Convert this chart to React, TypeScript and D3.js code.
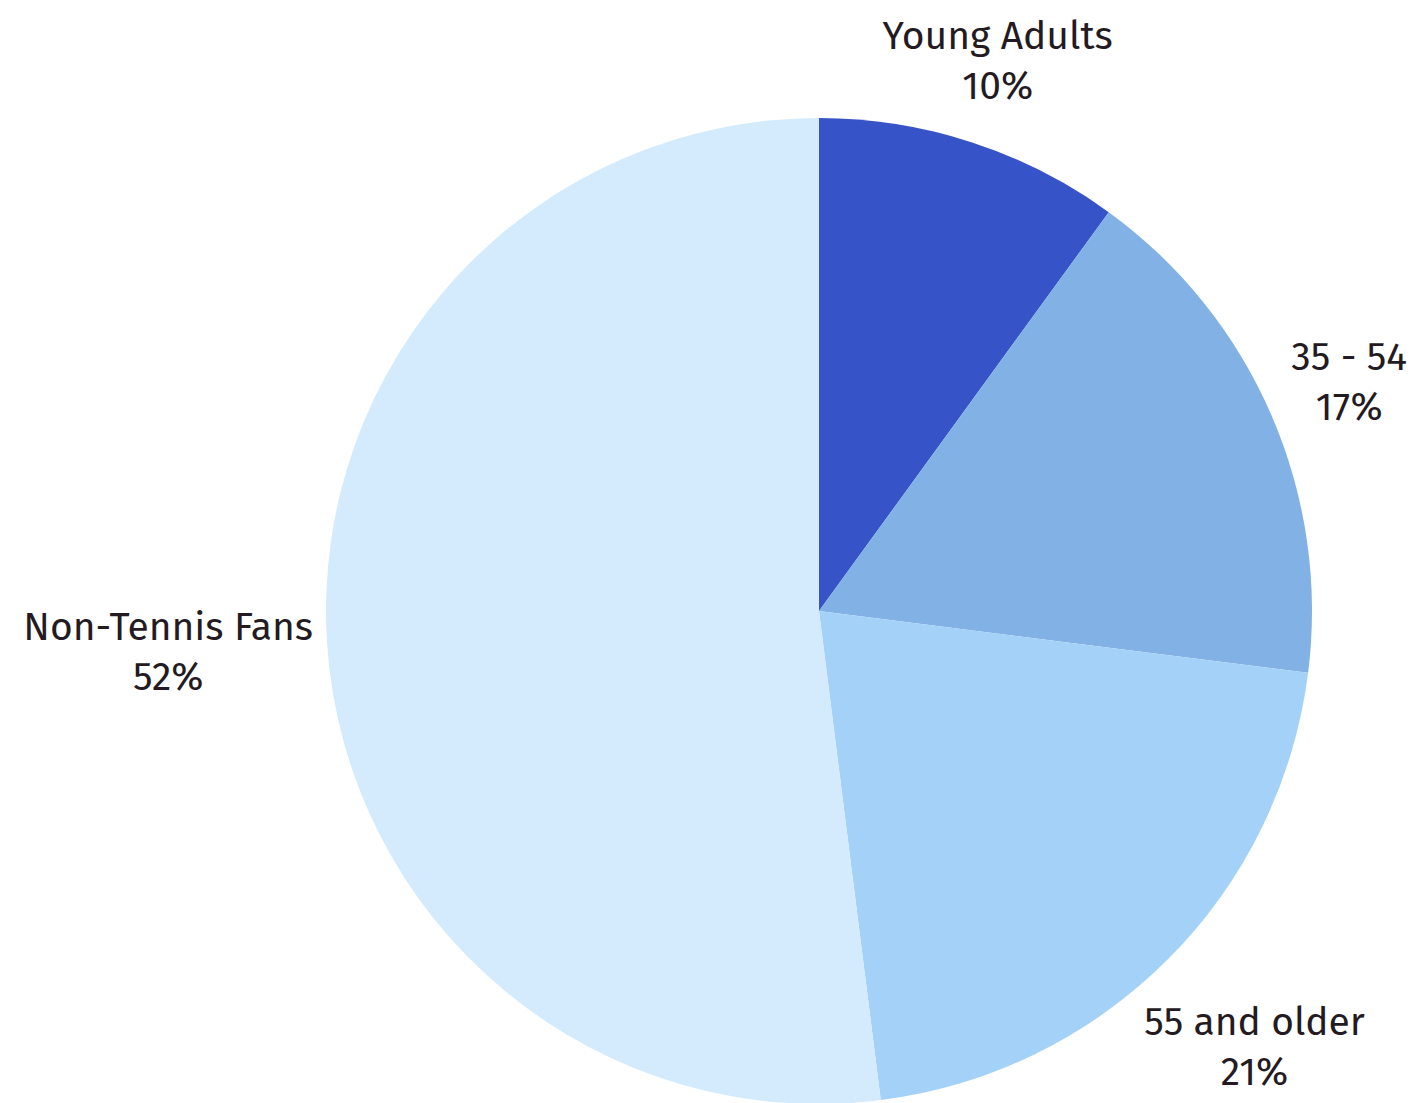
import React, { useEffect, useRef } from "react";
import * as d3 from "d3";

const categories = ["Young Adults", "35 - 54", "55 and older", "Non-Tennis Fans"];
const values = [10, 17, 21, 52];
const colors = ["#3653C8", "#82B1E5", "#A3D1F8", "#D3EBFD"];

const W = 1418;
const H = 1103;
const CX = 819;
const CY = 611;
const R = 493;
const LABEL_GAP_R = 506;
const FONT = 39;
const LINE = 50;

function rectDist(x0: number, y0: number, x1: number, y1: number) {
  const dx = Math.max(x0, 0, -x1);
  const dy = Math.max(y0, 0, -y1);
  return Math.sqrt(dx * dx + dy * dy);
}

export default function App() {
  const ref = useRef<SVGSVGElement | null>(null);

  useEffect(() => {
    const svg = d3.select(ref.current);
    svg.selectAll("*").remove();
    const g = svg.append("g").attr("transform", `translate(${CX},${CY})`);

    const data = categories.map((c, i) => ({ name: c, value: values[i], color: colors[i] }));
    const pie = d3.pie<any>().value((d) => d.value).sort(null);
    const arcs = pie(data);
    const arc = d3.arc<any>().innerRadius(0).outerRadius(R);

    g.selectAll("path")
      .data(arcs)
      .enter()
      .append("path")
      .attr("d", arc as any)
      .attr("fill", (d: any) => d.data.color);

    arcs.forEach((a: any) => {
      const mid = (a.startAngle + a.endAngle) / 2;
      const s = Math.sin(mid);
      const c = Math.cos(mid);
      const t = g
        .append("text")
        .attr("text-anchor", "middle")
        .attr("font-family", "'Fira Sans', 'Noto Sans', 'Open Sans', sans-serif")
        .attr("font-size", FONT)
        .attr("fill", "#231a22");
      t.append("tspan").attr("x", 0).attr("dy", 0).text(a.data.name);
      t.append("tspan").attr("x", 0).attr("dy", LINE).text(`${a.data.value}%`);
      const bb = (t.node() as SVGTextElement).getBBox();
      const hw = bb.width / 2;
      const hh = bb.height / 2;
      let lo = 0;
      let hi = 2000;
      for (let k = 0; k < 60; k++) {
        const m = (lo + hi) / 2;
        const px = m * s;
        const py = -m * c;
        const dist = rectDist(px - hw, py - hh, px + hw, py + hh);
        if (dist < LABEL_GAP_R) lo = m;
        else hi = m;
      }
      const cx = lo * s;
      const cy = -lo * c;
      const bcx = bb.x + hw;
      const bcy = bb.y + hh;
      t.attr("transform", `translate(${cx - bcx},${cy - bcy})`);
    });
  }, []);

  return <svg ref={ref} width={W} height={H} style={{ display: "block", position: "absolute", left: 0, top: 0 }} />;
}
